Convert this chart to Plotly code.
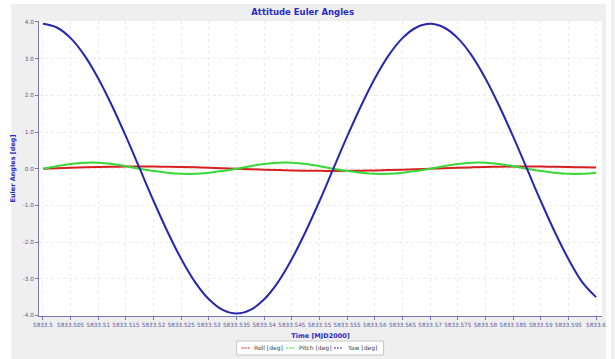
import plotly.graph_objects as go

# ---- data ----
t_step_labels = ["5833.5", "5833.505", "5833.51", "5833.515", "5833.52", "5833.525",
                 "5833.53", "5833.535", "5833.54", "5833.545", "5833.55", "5833.555",
                 "5833.56", "5833.565", "5833.57", "5833.575", "5833.58", "5833.585",
                 "5833.59", "5833.595", "5833.6"]
y_tick_labels = ["4.0", "3.0", "2.0", "1.0", "0.0", "-1.0", "-2.0", "-3.0", "-4.0"]

time = [5833.5 + 0.0025 * k for k in range(41)]

yaw = [3.95, 3.85, 3.56, 3.09, 2.46, 1.71, 0.88, 0.00, -0.88, -1.71, -2.46,
       -3.09, -3.56, -3.85, -3.95, -3.85, -3.56, -3.09, -2.46, -1.71, -0.88,
       0.00, 0.88, 1.71, 2.46, 3.09, 3.56, 3.85, 3.95, 3.85, 3.56, 3.09,
       2.46, 1.71, 0.88, 0.00, -0.88, -1.71, -2.46, -3.09, -3.50]

pitch = [0.00, 0.07, 0.13, 0.165, 0.165, 0.13, 0.07, 0.00, -0.06, -0.11, -0.14,
         -0.14, -0.11, -0.06, 0.00, 0.07, 0.13, 0.165, 0.165, 0.13, 0.07,
         0.00, -0.06, -0.11, -0.14, -0.14, -0.11, -0.06, 0.00, 0.07, 0.13,
         0.165, 0.165, 0.13, 0.07, 0.00, -0.06, -0.11, -0.14, -0.14, -0.11]

roll = [0.00, 0.013, 0.026, 0.037, 0.047, 0.054, 0.058, 0.06, 0.058, 0.054, 0.047,
        0.037, 0.026, 0.013, 0.00, -0.013, -0.026, -0.037, -0.047, -0.054, -0.058,
        -0.06, -0.058, -0.054, -0.047, -0.037, -0.026, -0.013, 0.00, 0.013, 0.026,
        0.037, 0.047, 0.054, 0.058, 0.06, 0.058, 0.054, 0.047, 0.037, 0.03]

series_names = ["Roll [deg]", "Pitch [deg]", "Yaw [deg]"]
series_colors = ["#d82020", "#38d838", "#2626b0"]

# ---- figure ----
W, H = 615, 359
L, R, T, B = 39, 606, 21, 316
pw, ph = R - L, B - T

def px_x(p):
    return (p - L) / pw

def px_y(p):
    return (B - p) / ph

fig = go.Figure()

for name, vals, col in zip(series_names, [roll, pitch, yaw], series_colors):
    fig.add_trace(go.Scatter(x=time, y=vals, mode="lines", name=name,
                             line=dict(color=col, width=2, shape="spline"),
                             showlegend=False, hoverinfo="skip"))

xticks = [float(s) for s in t_step_labels]
yticks = [float(s) for s in y_tick_labels]

axis_col = "#7878b8"
tick_font = dict(family="DejaVu Sans", size=5.7, color="#5858a0")
title_col = "#2a2ac8"

fig.update_xaxes(range=[5833.5 - 4 / 5570, 5833.6 + 6 / 5570], tickvals=xticks, ticktext=t_step_labels,
                 tickangle=0,
                 showline=True, linecolor=axis_col, linewidth=1, ticks="outside", ticklen=3,
                 tickcolor=axis_col, tickfont=tick_font, showgrid=True, gridcolor="#ececec",
                 griddash="dot", gridwidth=1, zeroline=False,
                 title=dict(text="<b>Time [MJD2000]</b>", font=dict(family="DejaVu Sans", size=6.5, color=title_col),
                            standoff=6))
fig.update_yaxes(range=[-4.015, 4.027], tickvals=yticks, ticktext=y_tick_labels,
                 showline=True, linecolor=axis_col, linewidth=1, ticks="outside", ticklen=3,
                 tickcolor=axis_col, tickfont=tick_font, showgrid=True, gridcolor="#ececec",
                 griddash="dot", gridwidth=1, zeroline=False,
                 title=dict(text="<b>Euler Angles [deg]</b>", font=dict(family="DejaVu Sans", size=6.5, color=title_col),
                            standoff=6))

shapes = [
    dict(type="rect", xref="paper", yref="paper", x0=px_x(0), x1=px_x(11), y0=px_y(H), y1=px_y(0),
         fillcolor="white", line_width=0, layer="above"),
    dict(type="rect", xref="paper", yref="paper", x0=px_x(0), x1=px_x(W), y0=px_y(4), y1=px_y(0),
         fillcolor="white", line_width=0, layer="above"),
    dict(type="rect", xref="paper", yref="paper", x0=px_x(610), x1=px_x(W), y0=px_y(H), y1=px_y(0),
         fillcolor="white", line_width=0, layer="above"),
    # legend box
    dict(type="rect", xref="paper", yref="paper", x0=px_x(238), x1=px_x(386), y0=px_y(355), y1=px_y(341),
         fillcolor="white", line=dict(color="#c8c8c8", width=1), layer="above"),
]

annotations = []
legend_x = [243, 288, 336]
for name, col, lx in zip(series_names, series_colors, legend_x):
    shapes.append(dict(type="line", xref="paper", yref="paper", x0=px_x(lx), x1=px_x(lx + 9),
                       y0=px_y(348), y1=px_y(348), line=dict(color=col, width=1.2, dash="2px,1px"),
                       layer="above"))
    annotations.append(dict(text=name, xref="paper", yref="paper", x=px_x(lx + 11), y=px_y(348),
                            xanchor="left", yanchor="middle", showarrow=False,
                            font=dict(family="DejaVu Sans", size=6, color="#404040")))

fig.update_layout(
    width=W, height=H,
    margin=dict(l=L, r=W - R, t=T, b=H - B, pad=0),
    paper_bgcolor="#efefef", plot_bgcolor="white",
    title=dict(text="<b>Attitude Euler Angles</b>", x=px_x(318), xanchor="center",
               y=1 - 12 / H, yanchor="middle", font=dict(family="DejaVu Sans", size=8.5, color=title_col)),
    showlegend=False,
    shapes=shapes,
    annotations=annotations,
)

fig.write_html("out.html")
